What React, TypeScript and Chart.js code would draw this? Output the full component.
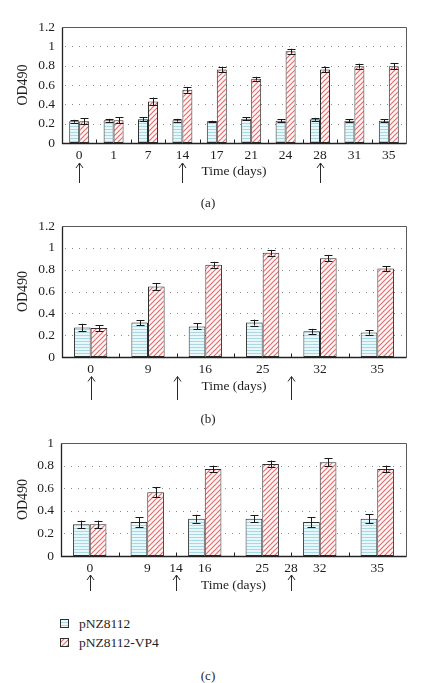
import React, { useEffect, useRef } from 'react';
import { Chart, registerables } from 'chart.js';

Chart.register(...registerables);

// ---------- data ----------
const seriesNames = ['pNZ8112', 'pNZ8112-VP4'];

const catsA = ['0', '1', '7', '14', '17', '21', '24', '28', '31', '35'];
const blueA = [0.225, 0.235, 0.245, 0.235, 0.225, 0.25, 0.23, 0.245, 0.23, 0.23];
const blueErrA = [0.015, 0.015, 0.02, 0.015, 0.005, 0.015, 0.015, 0.015, 0.015, 0.015];
const redA = [0.225, 0.235, 0.43, 0.55, 0.76, 0.665, 0.95, 0.76, 0.795, 0.795];
const redErrA = [0.03, 0.03, 0.04, 0.03, 0.03, 0.02, 0.025, 0.03, 0.025, 0.03];
const arrowsA = [0, 3, 7];

const catsB = ['0', '9', '16', '25', '32', '35'];
const blueB = [0.27, 0.315, 0.28, 0.315, 0.235, 0.225];
const blueErrB = [0.034, 0.024, 0.027, 0.027, 0.023, 0.02];
const redB = [0.265, 0.645, 0.845, 0.955, 0.905, 0.81];
const redErrB = [0.026, 0.03, 0.027, 0.026, 0.03, 0.023];
const arrowsB = [0, 1.5, 3.5];

const catsC = ['0', '9', '16', '25', '32', '35'];
const blueC = [0.28, 0.3, 0.33, 0.33, 0.3, 0.33];
const blueErrC = [0.033, 0.045, 0.035, 0.03, 0.045, 0.04];
const redC = [0.28, 0.565, 0.77, 0.815, 0.83, 0.77];
const redErrC = [0.033, 0.045, 0.03, 0.03, 0.035, 0.03];
const arrowsC = [0, 1.5, 3.5];
const extraTickPosC = [1.5, 3.5];
const extraTickLabelsC = ['14', '28'];

const yMaxAB = 1.2;
const yMaxC = 1.0;
const yStep = 0.2;

// ---------- styling ----------
const FONT_FAMILY = '"Liberation Serif", "DejaVu Serif", serif';
const TEXT = '#1e1e1e';
const tickFont = { family: FONT_FAMILY, size: 13.5, lineHeight: 1.2 };
const titleFont = { family: FONT_FAMILY, size: 13.5, lineHeight: 1.2 };

function makeBluePattern(ctx: CanvasRenderingContext2D): CanvasPattern | string {
  const c = document.createElement('canvas');
  c.width = 4;
  c.height = 3;
  const g = c.getContext('2d')!;
  g.fillStyle = '#e8f7fa';
  g.fillRect(0, 0, 4, 3);
  g.fillStyle = '#a9d7e3';
  g.fillRect(0, 0, 4, 1);
  return ctx.createPattern(c, 'repeat') || '#d8eef4';
}

function makeRedPattern(ctx: CanvasRenderingContext2D): CanvasPattern | string {
  const s = 5;
  const c = document.createElement('canvas');
  c.width = s;
  c.height = s;
  const g = c.getContext('2d')!;
  g.fillStyle = '#fff8f8';
  g.fillRect(0, 0, s, s);
  g.strokeStyle = '#e46e6e';
  g.lineWidth = 1.2;
  g.lineCap = 'square';
  g.beginPath();
  g.moveTo(-1, s + 1);
  g.lineTo(s + 1, -1);
  g.moveTo(-2, 2);
  g.lineTo(2, -2);
  g.moveTo(s - 2, s + 2);
  g.lineTo(s + 2, s - 2);
  g.stroke();
  return ctx.createPattern(c, 'repeat') || '#f4c8c8';
}

interface DecorOpts {
  errs: number[][];
  arrows: number[];
  arrowTip: number;
  arrowBottom: number;
  extraPos?: number[];
  extraLabels?: string[];
}

function makeDecor(o: DecorOpts) {
  return {
    id: 'decor',
    beforeDatasetsDraw(chart: any) {
      const { ctx, chartArea } = chart;
      const y = chart.scales.y;
      ctx.save();
      ctx.strokeStyle = '#8a8a8a';
      ctx.lineWidth = 1;
      ctx.setLineDash([1, 6]);
      y.ticks.forEach((t: any) => {
        if (t.value <= 0 || t.value >= y.max - 1e-9) return;
        const py = Math.round(y.getPixelForValue(t.value)) + 0.5;
        ctx.beginPath();
        ctx.moveTo(chartArea.left + 3, py);
        ctx.lineTo(chartArea.right, py);
        ctx.stroke();
      });
      ctx.restore();
    },
    afterDatasetsDraw(chart: any) {
      const { ctx, chartArea } = chart;
      const x = chart.scales.x;
      const y = chart.scales.y;
      ctx.save();
      // error bars
      ctx.strokeStyle = '#1a1a1a';
      ctx.lineWidth = 1;
      chart.data.datasets.forEach((ds: any, di: number) => {
        const meta = chart.getDatasetMeta(di);
        meta.data.forEach((bar: any, i: number) => {
          const v = ds.data[i];
          const e = o.errs[di][i];
          const bx = Math.round(bar.x) + 0.5;
          const y1 = y.getPixelForValue(v + e);
          const y2 = y.getPixelForValue(v - e);
          ctx.beginPath();
          ctx.moveTo(bx, y1);
          ctx.lineTo(bx, y2);
          ctx.moveTo(bx - 4, Math.round(y1) + 0.5);
          ctx.lineTo(bx + 4, Math.round(y1) + 0.5);
          ctx.moveTo(bx - 4, Math.round(y2) + 0.5);
          ctx.lineTo(bx + 4, Math.round(y2) + 0.5);
          ctx.stroke();
        });
      });
      // frame
      const L = Math.round(chartArea.left) + 0.5;
      const R = Math.round(chartArea.right) + 0.5;
      const T = Math.round(chartArea.top) + 0.5;
      const B = Math.round(chartArea.bottom) + 0.5;
      ctx.strokeStyle = '#5a5a5a';
      ctx.beginPath();
      ctx.moveTo(L, T);
      ctx.lineTo(R, T);
      ctx.lineTo(R, B);
      ctx.stroke();
      ctx.strokeStyle = '#222';
      ctx.lineWidth = 1.3;
      ctx.beginPath();
      ctx.moveTo(L, T);
      ctx.lineTo(L, B);
      ctx.lineTo(R, B);
      ctx.stroke();
      // inner boundary ticks
      ctx.lineWidth = 1;
      ctx.strokeStyle = '#222';
      const n = chart.data.labels.length;
      for (let i = 0; i < n - 1; i++) {
        const px = Math.round(x.getPixelForValue(i + 0.5)) + 0.5;
        ctx.beginPath();
        ctx.moveTo(px, B);
        ctx.lineTo(px, B - 4);
        ctx.stroke();
      }
      // extra tick labels
      if (o.extraPos && o.extraLabels) {
        ctx.fillStyle = TEXT;
        ctx.font = `${tickFont.size}px ${FONT_FAMILY}`;
        ctx.textAlign = 'center';
        ctx.textBaseline = 'middle';
        o.extraPos.forEach((p, i) => {
          ctx.fillText(o.extraLabels![i], x.getPixelForValue(p), chartArea.bottom + 4 + tickFont.size * 0.6);
        });
      }
      // arrows
      ctx.strokeStyle = '#2a2a2a';
      ctx.lineWidth = 1;
      o.arrows.forEach((p) => {
        const px = Math.round(x.getPixelForValue(p)) + 0.5;
        const tip = chartArea.bottom + o.arrowTip;
        const bot = chartArea.bottom + o.arrowBottom;
        ctx.beginPath();
        ctx.moveTo(px, bot);
        ctx.lineTo(px, tip);
        ctx.moveTo(px - 3.5, tip + 5);
        ctx.lineTo(px, tip);
        ctx.lineTo(px + 3.5, tip + 5);
        ctx.stroke();
      });
      ctx.restore();
    },
  };
}

interface PanelSpec {
  cats: string[];
  blue: number[];
  red: number[];
  blueErr: number[];
  redErr: number[];
  yMax: number;
  padTop: number;
  padBottom: number;
  axisH: number;
  axisW: number;
  arrows: number[];
  arrowTip: number;
  arrowBottom: number;
  extraPos?: number[];
  extraLabels?: string[];
}

function buildChart(canvas: HTMLCanvasElement, p: PanelSpec): Chart {
  const ctx = canvas.getContext('2d')!;
  const bluePat = makeBluePattern(ctx);
  const redPat = makeRedPattern(ctx);
  return new Chart(ctx, {
    type: 'bar',
    data: {
      labels: p.cats,
      datasets: [
        {
          label: seriesNames[0],
          data: p.blue,
          backgroundColor: bluePat as any,
          borderColor: '#2e2e2e',
          borderWidth: 1,
          borderSkipped: false,
          categoryPercentage: 0.58,
          barPercentage: 1,
        },
        {
          label: seriesNames[1],
          data: p.red,
          backgroundColor: redPat as any,
          borderColor: '#2e2e2e',
          borderWidth: 1,
          borderSkipped: false,
          categoryPercentage: 0.58,
          barPercentage: 1,
        },
      ],
    },
    options: {
      animation: false,
      responsive: false,
      devicePixelRatio: 1,
      layout: { padding: { top: p.padTop, left: 0, right: 24, bottom: p.padBottom } },
      plugins: { legend: { display: false }, tooltip: { enabled: false } },
      scales: {
        x: {
          grid: { display: false, drawTicks: false, tickLength: 0 },
          border: { display: false },
          ticks: { font: tickFont, color: TEXT, padding: 4, maxRotation: 0, autoSkip: false },
          title: { display: true, text: 'Time (days)', font: titleFont, color: TEXT, padding: 0 },
          afterFit: (s: any) => {
            s.height = p.axisH;
          },
        },
        y: {
          min: 0,
          max: p.yMax,
          grid: { display: false, drawTicks: false, tickLength: 0 },
          border: { display: false },
          ticks: {
            stepSize: yStep,
            font: tickFont,
            color: TEXT,
            padding: 7,
            callback: (v: any) => String(Math.round(Number(v) * 10) / 10),
          },
          title: { display: true, text: 'OD490', font: { ...titleFont, size: 14 }, color: TEXT, padding: { top: 15, bottom: 0 } },
          afterFit: (s: any) => {
            s.width = p.axisW;
          },
        },
      },
    } as any,
    plugins: [
      makeDecor({
        errs: [p.blueErr, p.redErr],
        arrows: p.arrows,
        arrowTip: p.arrowTip,
        arrowBottom: p.arrowBottom,
        extraPos: p.extraPos,
        extraLabels: p.extraLabels,
      }) as any,
    ],
  });
}

const panels: { top: number; height: number; spec: PanelSpec }[] = [
  {
    top: 0,
    height: 195,
    spec: {
      cats: catsA, blue: blueA, red: redA, blueErr: blueErrA, redErr: redErrA, yMax: yMaxAB,
      padTop: 27, padBottom: 15, axisH: 37, axisW: 62,
      arrows: arrowsA, arrowTip: 20, arrowBottom: 40,
    },
  },
  {
    top: 200,
    height: 215,
    spec: {
      cats: catsB, blue: blueB, red: redB, blueErr: blueErrB, redErr: redErrB, yMax: yMaxAB,
      padTop: 26, padBottom: 20, axisH: 38, axisW: 62,
      arrows: arrowsB, arrowTip: 19.5, arrowBottom: 43,
    },
  },
  {
    top: 420,
    height: 180,
    spec: {
      cats: catsC, blue: blueC, red: redC, blueErr: blueErrC, redErr: redErrC, yMax: yMaxC,
      padTop: 23, padBottom: 6, axisH: 38, axisW: 61,
      arrows: arrowsC, arrowTip: 19, arrowBottom: 35,
      extraPos: extraTickPosC, extraLabels: extraTickLabelsC,
    },
  },
];

const captionStyle = (cy: number): React.CSSProperties => ({
  position: 'absolute',
  left: 0,
  width: 416,
  top: cy - 8,
  height: 16,
  lineHeight: '16px',
  textAlign: 'center',
  fontFamily: FONT_FAMILY,
  fontSize: 13,
  color: TEXT,
});

export default function App() {
  const c0 = useRef<HTMLCanvasElement>(null);
  const c1 = useRef<HTMLCanvasElement>(null);
  const c2 = useRef<HTMLCanvasElement>(null);
  const s0 = useRef<HTMLCanvasElement>(null);
  const s1 = useRef<HTMLCanvasElement>(null);

  useEffect(() => {
    const refs = [c0, c1, c2];
    const charts = refs.map((r, i) => buildChart(r.current!, panels[i].spec));
    [s0, s1].forEach((r, i) => {
      const cv = r.current!;
      const g = cv.getContext('2d')!;
      g.clearRect(0, 0, cv.width, cv.height);
      g.fillStyle = i === 0 ? (makeBluePattern(g) as any) : (makeRedPattern(g) as any);
      g.fillRect(0, 0, cv.width, cv.height);
      g.strokeStyle = '#2e2e2e';
      g.lineWidth = 1;
      g.strokeRect(0.5, 0.5, cv.width - 1, cv.height - 1);
    });
    return () => charts.forEach((c) => c.destroy());
  }, []);

  const canvasRefs = [c0, c1, c2];
  return (
    <div style={{ position: 'absolute', left: 0, top: 0, width: 430, height: 683, background: '#fff', overflow: 'hidden' }}>
      {panels.map((p, i) => (
        <canvas
          key={i}
          ref={canvasRefs[i]}
          width={430}
          height={p.height}
          style={{ position: 'absolute', left: 0, top: p.top, width: 430, height: p.height, display: 'block' }}
        />
      ))}
      <div style={captionStyle(203)}>(a)</div>
      <div style={captionStyle(419)}>(b)</div>
      <div style={captionStyle(676)}>(c)</div>
      <canvas ref={s0} width={9} height={9} style={{ position: 'absolute', left: 60, top: 619, width: 9, height: 9 }} />
      <canvas ref={s1} width={9} height={9} style={{ position: 'absolute', left: 60, top: 638, width: 9, height: 9 }} />
      <div style={{ position: 'absolute', left: 79, top: 615, height: 18, lineHeight: '18px', fontFamily: FONT_FAMILY, fontSize: 13.5, color: TEXT, whiteSpace: 'nowrap' }}>
        {seriesNames[0]}
      </div>
      <div style={{ position: 'absolute', left: 79, top: 634, height: 18, lineHeight: '18px', fontFamily: FONT_FAMILY, fontSize: 13.5, color: TEXT, whiteSpace: 'nowrap' }}>
        {seriesNames[1]}
      </div>
    </div>
  );
}
